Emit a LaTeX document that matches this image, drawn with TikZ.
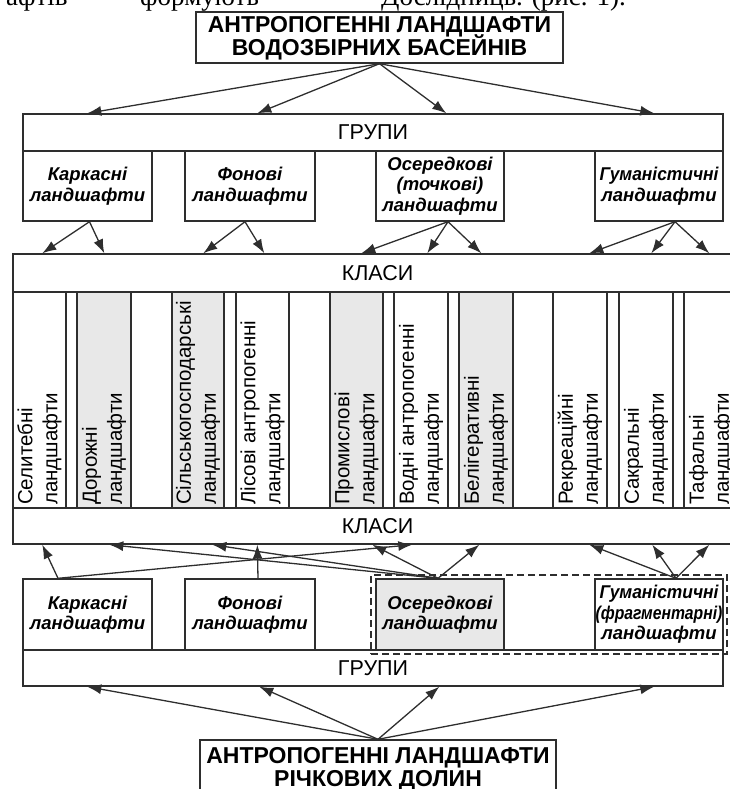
\documentclass[tikz,border=0pt]{standalone}
\usepackage{fontspec}
\setmainfont{Liberation Sans}
\newfontfamily\serifhdr{Liberation Serif}
\usetikzlibrary{arrows.meta,calc}
\definecolor{linec}{HTML}{2E2E2E}
\definecolor{fillg}{HTML}{E8E8E8}
\newcommand{\myrect}[7]{\node[box,#6,minimum width={#4-#2},minimum height={#5-#3}] (#1) at ({(#2+#4)/2},{(#3+#5)/2}) {#7};}
\begin{document}
\begin{tikzpicture}[x=1pt,y=-1pt,
  box/.style={draw=linec, line width=1.4pt, inner sep=0pt, rectangle, align=center},
  arr/.style={draw=linec, line width=1.3pt, -{Latex[length=14pt,width=10pt]}},
  grp/.style={font=\fontsize{18.5}{20.5}\selectfont\bfseries\itshape},
  hdr/.style={font=\fontsize{23}{23}\selectfont\bfseries, anchor=base, inner sep=0pt},
  lbl/.style={font=\fontsize{21.5}{22}\selectfont},
  coltext/.style={font=\fontsize{20.5}{25}\selectfont, rotate=90, anchor=west, align=left, inner sep=0pt},
  grey/.style={fill=fillg},
  dashbox/.style={draw=linec, line width=1.6pt, dash pattern=on 7pt off 4pt, fill=none},
  bodytext/.style={font=\serifhdr\fontsize{27}{27}\selectfont, anchor=base west, inner sep=0pt},
]
\useasboundingbox (0,0) rectangle (729,789);
% cut header line of body text
\node[bodytext] (w1) at (6,6) {афтів};
\node[bodytext] (w2) at (140,6) {формують};
\node[bodytext] (w3) at (381,6) {Дослідниць. (рис. 1).};
% top
\myrect{top}{196}{12}{563}{63}{}{}
\node[hdr] (topA) at (379.5,33) {АНТРОПОГЕННІ ЛАНДШАФТИ};
\node[hdr] (topB) at (379.5,56) {ВОДОЗБІРНИХ БАСЕЙНІВ};
\myrect{grupiA}{23}{114}{723}{151}{lbl}{ГРУПИ}
\myrect{k1}{23}{151}{152}{221}{grp}{Каркасні\\ландшафти}
\myrect{f1}{185}{151}{315}{221}{grp}{Фонові\\ландшафти}
\myrect{o1}{376}{151}{504}{221}{grp}{Осередкові\\(точкові)\\ландшафти}
\myrect{h1}{595}{151}{723}{221}{grp}{\scalebox{0.94}[1]{Гуманістичні}\\ландшафти}
% classes
\myrect{klasiA}{13}{254}{742}{292}{lbl}{КЛАСИ}
\myrect{mid}{13}{292}{742}{508}{}{}
\myrect{klasiB}{13}{508}{742}{544}{lbl}{КЛАСИ}
\myrect{c1}{13}{292}{66}{508}{}{}
\myrect{c2}{77}{292}{131}{508}{grey}{}
\myrect{c3}{172}{292}{224}{508}{grey}{}
\myrect{c4}{236}{292}{289}{508}{}{}
\myrect{c5}{330}{292}{383}{508}{grey}{}
\myrect{c6}{394}{292}{448}{508}{}{}
\myrect{c7}{459}{292}{513}{508}{grey}{}
\myrect{c8}{553}{292}{607}{508}{}{}
\myrect{c9}{619}{292}{673}{508}{}{}
\myrect{c10}{684}{292}{738}{508}{}{}
\node[coltext] (t1) at (c1.center |- 0,505) {Селитебні\\ландшафти};
\node[coltext] (t2) at (c2.center |- 0,505) {Дорожні\\ландшафти};
\node[coltext] (t3) at (c3.center |- 0,505) {Сільськогосподарські\\ландшафти};
\node[coltext] (t4) at (c4.center |- 0,505) {Лісові антропогенні\\ландшафти};
\node[coltext] (t5) at (c5.center |- 0,505) {Промислові\\ландшафти};
\node[coltext] (t6) at (c6.center |- 0,505) {Водні антропогенні\\ландшафти};
\node[coltext] (t7) at (c7.center |- 0,505) {Белігеративні\\ландшафти};
\node[coltext] (t8) at (c8.center |- 0,505) {Рекреаційні\\ландшафти};
\node[coltext] (t9) at (c9.center |- 0,505) {Сакральні\\ландшафти};
\node[coltext] (t10) at (c10.center |- 0,505) {Тафальні\\ландшафти};
% bottom groups
\myrect{dash}{371}{575}{727}{654}{dashbox}{}
\myrect{k2}{23}{579}{152}{650}{grp}{Каркасні\\ландшафти}
\myrect{f2}{185}{579}{315}{650}{grp}{Фонові\\ландшафти}
\myrect{o2}{376}{579}{504}{650}{grp,grey}{Осередкові\\ландшафти}
\myrect{h2}{595}{579}{723}{650}{grp}{\scalebox{0.94}[1]{Гуманістичні}\\\scalebox{0.85}[1]{(фрагментарні)}\\ландшафти}
\myrect{grupiB}{23}{650}{723}{686}{lbl}{ГРУПИ}
\myrect{bot}{200}{740}{556}{800}{}{}
\node[hdr] (botA) at (378,763) {АНТРОПОГЕННІ ЛАНДШАФТИ};
\node[hdr] (botB) at (378,786) {РІЧКОВИХ ДОЛИН};
% top arrows
\draw[arr] (top.south) -- ([xshift=65pt]grupiA.north west);
\draw[arr] (top.south) -- ([xshift=235pt]grupiA.north west);
\draw[arr] (top.south) -- ([xshift=424pt]grupiA.north west);
\draw[arr] (top.south) -- ([xshift=632pt]grupiA.north west);
% group -> classes
\draw[arr] ([xshift=2pt]k1.south) -- ([xshift=30pt]klasiA.north west);
\draw[arr] ([xshift=2pt]k1.south) -- ([xshift=92pt]klasiA.north west);
\draw[arr] ([xshift=-5pt]f1.south) -- ([xshift=191pt]klasiA.north west);
\draw[arr] ([xshift=-5pt]f1.south) -- ([xshift=252pt]klasiA.north west);
\draw[arr] ([xshift=8pt]o1.south) -- ([xshift=349pt]klasiA.north west);
\draw[arr] ([xshift=8pt]o1.south) -- ([xshift=415pt]klasiA.north west);
\draw[arr] ([xshift=8pt]o1.south) -- ([xshift=469pt]klasiA.north west);
\draw[arr] ([xshift=16pt]h1.south) -- ([xshift=577pt]klasiA.north west);
\draw[arr] ([xshift=16pt]h1.south) -- ([xshift=639pt]klasiA.north west);
\draw[arr] ([xshift=16pt]h1.south) -- ([xshift=697pt]klasiA.north west);
% lower groups -> classes
\draw[arr] ([xshift=-29.5pt]k2.north) -- ([xshift=30pt]klasiB.south west);
\draw[arr] ([xshift=-29.5pt]k2.north) -- ([xshift=400pt]klasiB.south west);
\draw[arr] ([xshift=8pt]f2.north) -- ([xshift=245pt]klasiB.south west);
\draw[arr] ([xshift=-2pt]o2.north) -- ([xshift=97pt]klasiB.south west);
\draw[arr] ([xshift=-2pt]o2.north) -- ([xshift=200pt]klasiB.south west);
\draw[arr] ([xshift=-2pt]o2.north) -- ([xshift=360pt]klasiB.south west);
\draw[arr] ([xshift=-2pt]o2.north) -- ([xshift=467pt]klasiB.south west);
\draw[arr] ([xshift=17pt]h2.north) -- ([xshift=577pt]klasiB.south west);
\draw[arr] ([xshift=17pt]h2.north) -- ([xshift=640pt]klasiB.south west);
\draw[arr] ([xshift=17pt]h2.north) -- ([xshift=697pt]klasiB.south west);
% bottom arrows
\draw[arr] (bot.north) -- ([xshift=65pt]grupiB.south west);
\draw[arr] (bot.north) -- ([xshift=237pt]grupiB.south west);
\draw[arr] (bot.north) -- ([xshift=417pt]grupiB.south west);
\draw[arr] (bot.north) -- ([xshift=632pt]grupiB.south west);
\end{tikzpicture}
\end{document}
